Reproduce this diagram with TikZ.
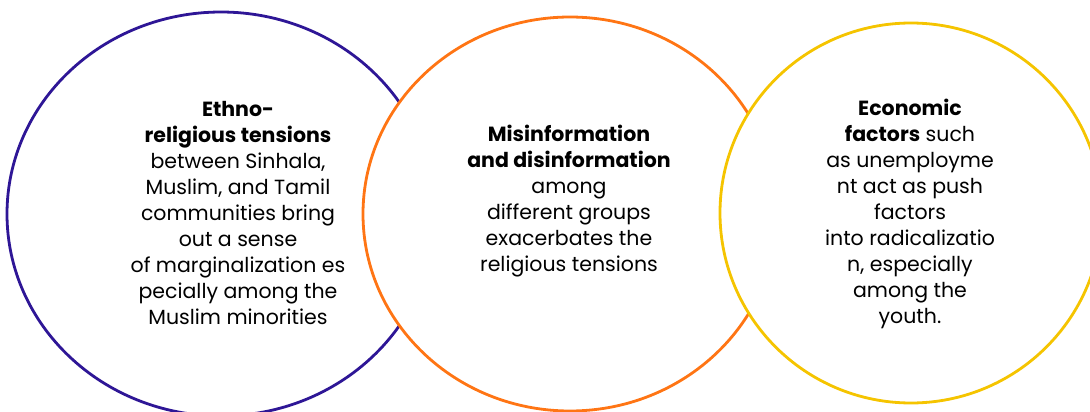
\documentclass[tikz,border=0pt]{standalone}
\usepackage{fontspec}
\setmainfont{Poppins}
\definecolor{cpurple}{RGB}{46,22,150}
\definecolor{corange}{RGB}{255,117,20}
\definecolor{cyellow}{RGB}{245,196,0}
\tikzset{
  ring/.style={line width=2.8pt, fill=white},
  label/.style={align=center, font=\fontsize{20.5}{26}\selectfont, inner sep=0pt, text=black}
}
\begin{document}
\begin{tikzpicture}[x=1pt,y=-1pt]
\useasboundingbox (0,0) rectangle (1090,412);
\draw[ring, draw=cpurple] (221,214) ellipse [x radius=214, y radius=202];
\draw[ring, draw=corange] (570,214) ellipse [x radius=207, y radius=197];
\draw[ring, draw=cyellow] (911,213) ellipse [x radius=191, y radius=190];
\node[label] (t1) at (238,213) {\textbf{Ethno-}\\\textbf{religious tensions}\\between Sinhala,\\Muslim, and Tamil\\communities bring\\out a sense\\of marginalization es\\pecially among the\\Muslim minorities};
\node[label] (t2) at (569,201) {\textbf{Misinformation}\\\textbf{and disinformation}\\among\\different groups\\exacerbates the\\religious tensions};
\node[label] (t3) at (910,213.5) {\textbf{Economic}\\\textbf{factors} such\\as unemployme\\nt act as push\\factors\\into radicalizatio\\n, especially\\among the\\youth.};
\end{tikzpicture}
\end{document}
